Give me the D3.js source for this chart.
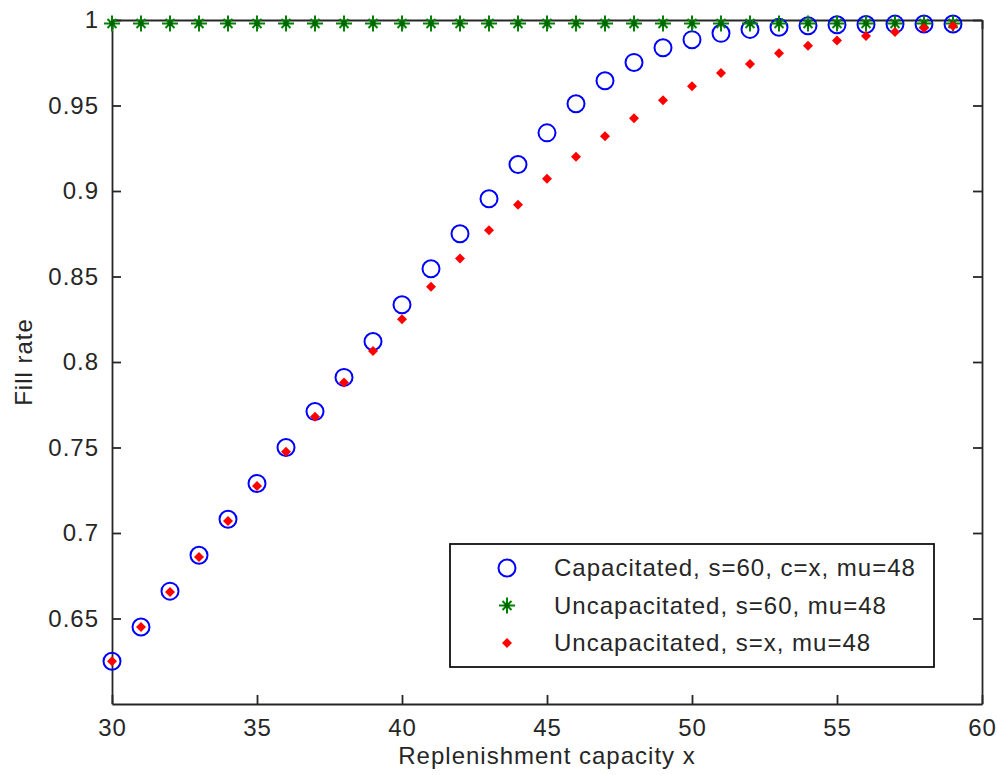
<!DOCTYPE html>
<html>
<head>
<meta charset="utf-8">
<script src="https://cdn.jsdelivr.net/npm/d3@7"></script>
<style>
  html, body { margin: 0; padding: 0; background: #fff; }
  svg { display: block; }
  text { font-family: "Liberation Sans", Arial, sans-serif; fill: #262626; letter-spacing: 1px; }
</style>
</head>
<body>
<svg id="chart" width="997" height="775"></svg>
<script>
// Replenishment capacity x
const capacity = d3.range(30, 60);

// Fill rate, capacitated model (s=60, c=x, mu=48)
const capacitated = [
  0.625, 0.645, 0.666, 0.687, 0.708, 0.729, 0.750, 0.771, 0.791, 0.812,
  0.8335, 0.8545, 0.875, 0.8955, 0.9155, 0.934, 0.951, 0.9645, 0.9752, 0.9838,
  0.9885, 0.9922, 0.9945, 0.9958, 0.9966, 0.9972, 0.9974, 0.9976, 0.9977, 0.9977
];

// Fill rate, uncapacitated model with s=60
const uncapS60 = [
  0.998, 0.998, 0.998, 0.998, 0.998, 0.998, 0.998, 0.998, 0.998, 0.998,
  0.998, 0.998, 0.998, 0.998, 0.998, 0.998, 0.998, 0.998, 0.998, 0.998,
  0.998, 0.998, 0.998, 0.998, 0.998, 0.998, 0.998, 0.998, 0.998, 0.998
];

// Fill rate, uncapacitated model with s=x
const uncapSx = [
  0.625, 0.645, 0.6655, 0.686, 0.707, 0.7275, 0.7475, 0.768, 0.788, 0.8065,
  0.825, 0.844, 0.8605, 0.877, 0.892, 0.9072, 0.920, 0.932, 0.9425, 0.953,
  0.9612, 0.969, 0.9742, 0.9805, 0.985, 0.988, 0.9906, 0.993, 0.9953, 0.9965
];

const xTicks = [30, 35, 40, 45, 50, 55, 60];
const yTicks = [0.65, 0.7, 0.75, 0.8, 0.85, 0.9, 0.95, 1];

const seriesNames = [
  "Capacitated, s=60, c=x, mu=48",
  "Uncapacitated, s=60, mu=48",
  "Uncapacitated, s=x, mu=48"
];

const svg = d3.select("#chart");
const plot = { left: 112, right: 982, top: 20, bottom: 704 };

const x = d3.scaleLinear().domain([30, 60]).range([plot.left, plot.right]);
const y = d3.scaleLinear().domain([0.6, 1]).range([plot.bottom, plot.top]);

const axisColor = "#262626";
const tickLen = 9;

// Axes (ticks point inward, mirrored on top and right)
const fmtY = d => d3.format("")(+d.toFixed(2));

const bottomAxis = svg.append("g")
  .attr("transform", `translate(0,${plot.bottom})`)
  .call(d3.axisBottom(x).tickValues(xTicks).tickSizeInner(-tickLen).tickSizeOuter(0).tickPadding(15).tickFormat(d3.format("d")));
const leftAxis = svg.append("g")
  .attr("transform", `translate(${plot.left},0)`)
  .call(d3.axisLeft(y).tickValues(yTicks).tickSizeInner(-tickLen).tickSizeOuter(0).tickPadding(13).tickFormat(fmtY));
const topAxis = svg.append("g")
  .attr("transform", `translate(0,${plot.top})`)
  .call(d3.axisTop(x).tickValues(xTicks).tickSizeInner(-tickLen).tickSizeOuter(0).tickFormat(""));
const rightAxis = svg.append("g")
  .attr("transform", `translate(${plot.right},0)`)
  .call(d3.axisRight(y).tickValues(yTicks).tickSizeInner(-tickLen).tickSizeOuter(0).tickFormat(""));

[bottomAxis, leftAxis, topAxis, rightAxis].forEach(g => {
  g.select(".domain").attr("stroke", axisColor).attr("stroke-width", 1.8);
  g.selectAll(".tick line").attr("stroke", axisColor).attr("stroke-width", 1.8);
  g.selectAll(".tick text")
    .attr("fill", axisColor)
    .style("font-family", '"Liberation Sans", Arial, sans-serif')
    .style("font-size", "24px")
    .style("letter-spacing", "1px");
});
bottomAxis.selectAll(".tick text").attr("dy", "0.71em");

// Axis titles
svg.append("text")
  .attr("x", (plot.left + plot.right) / 2)
  .attr("y", 764)
  .attr("text-anchor", "middle")
  .style("font-size", "24px")
  .text("Replenishment capacity x");

svg.append("text")
  .attr("transform", `translate(32,${(plot.top + plot.bottom) / 2}) rotate(-90)`)
  .attr("text-anchor", "middle")
  .style("font-size", "24px")
  .text("Fill rate");

// Marker shapes
const starPath = "M-8,0H8M0,-8V8M-4.5,-4.5L4.5,4.5M-4.5,4.5L4.5,-4.5";
const dotPath = "M0,-5L5,0L0,5L-5,0Z";

function drawCircle(g, cx, cy) {
  g.append("circle").attr("cx", cx).attr("cy", cy).attr("r", 8.5)
    .attr("fill", "none").attr("stroke", "#0000ff").attr("stroke-width", 2);
}
function drawStar(g, cx, cy) {
  g.append("path").attr("transform", `translate(${cx},${cy})`).attr("d", starPath)
    .attr("fill", "none").attr("stroke", "#008000").attr("stroke-width", 2);
  g.append("circle").attr("cx", cx).attr("cy", cy).attr("r", 2.5).attr("fill", "#006400");
}
function drawDot(g, cx, cy) {
  g.append("path").attr("transform", `translate(${cx},${cy})`).attr("d", dotPath)
    .attr("fill", "#ff0000");
}

const marks = svg.append("g");
capacity.forEach((c, i) => drawCircle(marks, x(c), y(capacitated[i])));
capacity.forEach((c, i) => drawStar(marks, x(c), y(uncapS60[i])));
capacity.forEach((c, i) => drawDot(marks, x(c), y(uncapSx[i])));

// Legend
const legend = svg.append("g");
legend.append("rect")
  .attr("x", 450).attr("y", 544).attr("width", 484).attr("height", 123)
  .attr("fill", "#fff").attr("stroke", "#111").attr("stroke-width", 1.8);

const drawers = [drawCircle, drawStar, drawDot];
seriesNames.forEach((name, i) => {
  const cy = 568 + i * 37.5;
  drawers[i](legend, 507, cy);
  legend.append("text")
    .attr("x", 554).attr("y", cy)
    .attr("dy", "0.35em")
    .style("font-size", "24px")
    .text(name);
});
</script>
</body>
</html>
